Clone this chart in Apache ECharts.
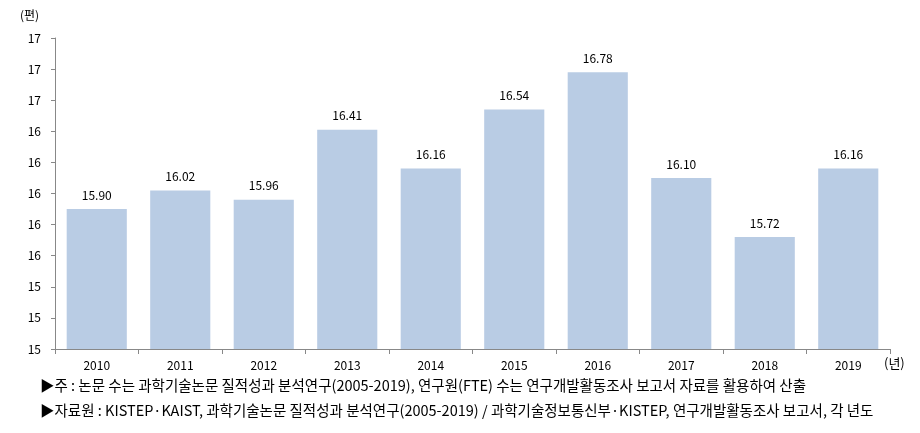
<!DOCTYPE html>
<html><head><meta charset="utf-8">
<script src="https://cdn.jsdelivr.net/npm/echarts@6/dist/echarts.min.js"></script>
<style>html,body{margin:0;padding:0;background:#fff}#c{width:920px;height:433px}</style>
</head><body><div id="c"></div>
<script>
const categories = ['2010','2011','2012','2013','2014','2015','2016','2017','2018','2019'];
const values = [15.90, 16.02, 15.96, 16.41, 16.16, 16.54, 16.78, 16.10, 15.72, 16.16];
const yUnit = '(편)';
const xUnit = '(년)';
const note1 = '▶주 : 논문 수는 과학기술논문 질적성과 분석연구(2005-2019), 연구원(FTE) 수는 연구개발활동조사 보고서 자료를 활용하여 산출';
const note2 = '▶자료원 : KISTEP·KAIST, 과학기술논문 질적성과 분석연구(2005-2019) / 과학기술정보통신부·KISTEP, 연구개발활동조사 보고서, 각 년도';
const FONT = '"Noto Sans CJK KR", "Noto Sans", sans-serif';
const chart = echarts.init(document.getElementById('c'));
chart.setOption({
  animation: false,
  textStyle: {fontFamily: FONT},
  grid: {left: 55, right: 30, top: 38, bottom: 84},
  xAxis: {
    type: 'category', data: categories,
    axisLine: {lineStyle: {color: '#888'}},
    axisTick: {show: true, length: 5, lineStyle: {color: '#888'}},
    axisLabel: {color: '#000', fontSize: 12, margin: 10, fontFamily: FONT}
  },
  yAxis: {
    type: 'value', min: 15, max: 17, interval: 0.2,
    axisLine: {show: true, lineStyle: {color: '#888'}},
    axisTick: {show: true, length: 4, lineStyle: {color: '#888'}},
    splitLine: {show: false},
    axisLabel: {color: '#000', fontSize: 12, margin: 14, fontFamily: FONT,
      formatter: v => Math.round(v).toString()}
  },
  series: [{
    type: 'bar', data: values, barWidth: '72%',
    itemStyle: {color: '#b9cce4'},
    label: {show: true, position: 'top', distance: 8, color: '#000', fontSize: 12,
      fontFamily: FONT, formatter: p => p.value.toFixed(2)}
  }],
  graphic: [
    {type: 'text', left: 20, top: 9, style: {text: yUnit, fill: '#000', font: '12px ' + FONT}},
    {type: 'text', left: 884, top: 357, style: {text: xUnit, fill: '#000', font: '13px ' + FONT}},
    {type: 'text', left: 40, top: 378, style: {text: note1, fill: '#000', font: '14.5px ' + FONT}},
    {type: 'text', left: 40, top: 403, style: {text: note2, fill: '#000', font: '14.5px ' + FONT}}
  ]
});
</script></body></html>
